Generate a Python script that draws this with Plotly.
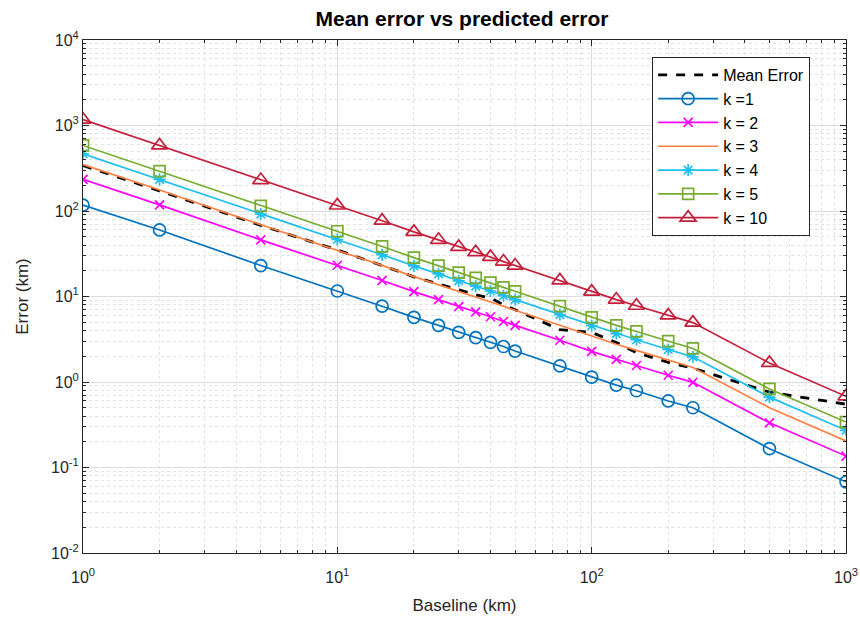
import plotly.graph_objects as go

baseline = [1, 2, 5, 10, 15, 20, 25, 30, 35, 40, 45, 50, 75, 100, 125, 150, 200, 250, 500, 1000]

mean_error = [340, 172, 68, 35, 23, 17, 14, 12, 10.5, 9.6, 8.0, 7.0, 4.1, 3.8, 2.9, 2.2, 1.7, 1.45, 0.76, 0.55]
k1 = [117, 60, 23, 11.6, 7.7, 5.7, 4.6, 3.8, 3.3, 2.9, 2.6, 2.3, 1.54, 1.14, 0.92, 0.79, 0.60, 0.50, 0.166, 0.068]
k2 = [234, 118, 46, 23.2, 15.4, 11.4, 9.2, 7.6, 6.6, 5.8, 5.1, 4.6, 3.08, 2.28, 1.84, 1.56, 1.20, 0.99, 0.333, 0.136]
k3 = [350, 176, 69, 34.8, 23.1, 17.1, 13.8, 11.4, 9.9, 8.7, 7.7, 6.9, 4.6, 3.42, 2.76, 2.34, 1.80, 1.48, 0.50, 0.204]
k4 = [467, 234, 92, 46.4, 30.8, 22.8, 18.4, 15.2, 13.2, 11.6, 10.2, 9.2, 6.15, 4.56, 3.68, 3.12, 2.40, 1.97, 0.665, 0.272]
k5 = [584, 292, 115, 58, 38.5, 28.5, 23, 19, 16.5, 14.5, 12.8, 11.5, 7.7, 5.7, 4.6, 3.9, 3.0, 2.47, 0.83, 0.34]
k10 = [1170, 585, 230, 116, 77, 57, 46, 38, 33, 29, 25.6, 23, 15.4, 11.4, 9.2, 7.8, 6.0, 4.95, 1.67, 0.68]

FONT = "Arial, Liberation Sans, sans-serif"

fig = go.Figure()

fig.add_trace(go.Scatter(x=baseline, y=mean_error, mode="lines", name="Mean Error",
                         line=dict(color="black", width=2.8, dash="dash")))

series = [
    ("k =1", k1, "#0072BD", "circle-open", 12),
    ("k = 2", k2, "#FF00FF", "x-thin-open", 9),
    ("k = 3", k3, "#FF7F3F", None, 0),
    ("k = 4", k4, "#1FBFEF", "asterisk-open", 10),
    ("k = 5", k5, "#77AC30", "square-open", 11),
    ("k = 10", k10, "#C41E3A", "triangle-up-open", 14),
]
for name, vals, color, sym, size in series:
    if sym:
        fig.add_trace(go.Scatter(x=baseline, y=vals, mode="lines+markers", name=name,
                                 line=dict(color=color, width=1.7),
                                 marker=dict(symbol=sym, size=size, color=color,
                                             line=dict(color=color, width=1.7))))
    else:
        fig.add_trace(go.Scatter(x=baseline, y=vals, mode="lines", name=name,
                                 line=dict(color=color, width=1.7)))

x_major = [1, 10, 100, 1000]
x_text = ["10<sup>0</sup>", "10<sup>1</sup>", "10<sup>2</sup>", "10<sup>3</sup>"]
y_major = [0.01, 0.1, 1, 10, 100, 1000, 10000]
y_text = ["10<sup>-2</sup>", "10<sup>-1</sup>", "10<sup>0</sup>", "10<sup>1</sup>",
          "10<sup>2</sup>", "10<sup>3</sup>", "10<sup>4</sup>"]

def minors(decades):
    out = []
    for d in decades[:-1]:
        for m in range(2, 10):
            out.append(d * m)
    return out

axis_common = dict(
    type="log", showline=True, linecolor="#262626", linewidth=1, mirror="ticks",
    ticks="inside", ticklen=6, tickcolor="#262626",
    showgrid=True, gridcolor="#DCDCDC", gridwidth=1,
    tickfont=dict(family=FONT, size=16, color="#262626"),
    zeroline=False, automargin=False,
)

fig.update_xaxes(range=[0, 3], tickmode="array", tickvals=x_major, ticktext=x_text,
                 ticklabelstandoff=10,
                 minor=dict(tickmode="array", tickvals=minors(x_major), ticks="inside",
                            ticklen=3, tickcolor="#262626", showgrid=True,
                            gridcolor="#E2E2E2", griddash="dot", gridwidth=1),
                 title=dict(text="Baseline (km)", font=dict(family=FONT, size=17, color="#262626"),
                            standoff=13),
                 **axis_common)
fig.update_yaxes(range=[-2, 4], tickmode="array", tickvals=y_major, ticktext=y_text,
                 minor=dict(tickmode="array", tickvals=minors(y_major), ticks="inside",
                            ticklen=3, tickcolor="#262626", showgrid=True,
                            gridcolor="#E2E2E2", griddash="dot", gridwidth=1),
                 title=dict(text="Error (km)", font=dict(family=FONT, size=17, color="#262626"),
                            standoff=18),
                 **axis_common)

fig.update_layout(
    width=860, height=621,
    margin=dict(l=83, r=14, t=40, b=68),
    paper_bgcolor="white", plot_bgcolor="white",
    title=dict(text="<b>Mean error vs predicted error</b>", x=462 / 860, xanchor="center",
               y=1 - 19 / 621, yanchor="middle",
               font=dict(family=FONT, size=21, color="black")),
    legend=dict(x=0.953, y=0.967, xanchor="right", yanchor="top",
                bgcolor="white", bordercolor="#262626", borderwidth=1,
                font=dict(family=FONT, size=16, color="black"),
                itemwidth=60, tracegroupgap=0),
    showlegend=True,
)

fig.write_html("out.html")
